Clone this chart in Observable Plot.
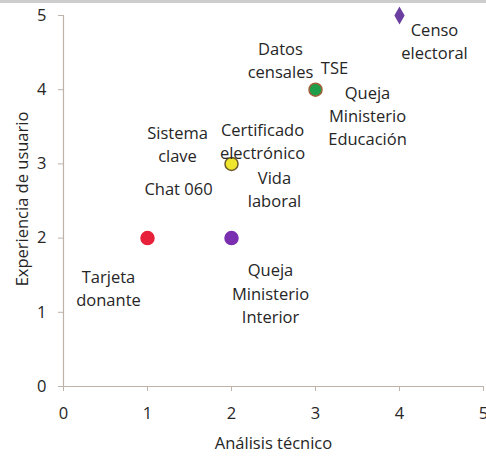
<!DOCTYPE html>
<html><head><meta charset="utf-8">
<script src="https://cdn.jsdelivr.net/npm/d3@7"></script>
<script src="https://cdn.jsdelivr.net/npm/@observablehq/plot@0.6"></script>
<style>
html,body{margin:0;padding:0;background:#fff;}
#chart{position:relative;width:486px;height:469px;overflow:hidden;}
#band{position:absolute;left:0;top:0;width:486px;height:3px;background:#cdcdcd;}
</style></head><body><div id="chart"><div id="band"></div></div>
<script>
// Data
const analisisTecnico = [1, 2, 2, 3, 4];
const experienciaUsuario = [2, 2, 3, 4, 5];
const pointFill = ["#e8213a", "#7a2fb0", "#eee62c", "#1e9e4a", "#6b3fa0"];
const pointStroke = ["#e8213a", "#7a2fb0", "#6b5a2a", "#a0603a", "#6b3fa0"];
const pointSymbol = ["circle", "circle", "circle", "circle", "diamond"];

const labelText = ["Tarjeta\ndonante", "Queja\nMinisterio\nInterior", "Sistema\nclave", "Certificado\nelectrónico", "Chat 060", "Vida\nlaboral", "Datos\ncensales", "TSE", "Queja\nMinisterio\nEducación", "Censo\nelectoral"];
const labelX = [1, 2, 2, 2, 2, 2, 3, 3, 3, 4];
const labelY = [2, 2, 3, 3, 3, 3, 4, 4, 4, 5];

const xTicks = [0, 1, 2, 3, 4, 5];
const yTicks = [0, 1, 2, 3, 4, 5];

// Rendering
const pointRadius = {circle: 6.5, diamond: 4.5};
const points = analisisTecnico.map((x, i) => ({x, y: experienciaUsuario[i], fill: pointFill[i], stroke: pointStroke[i], symbol: pointSymbol[i], r: pointRadius[pointSymbol[i]]}));
const labelOffsets = [[-39, 49], [39, 54], [-54, -21], [31, -24], [-53, 24], [43, 24], [-35, -31], [19, -23], [52, 25], [35, 25]];
const font = "'Open Sans', sans-serif";
const axisColor = "#bfb2a8";
const textColor = "#262626";

const labelMarks = labelText.map((t, i) => Plot.text([{x: labelX[i], y: labelY[i], t}], {
  x: "x", y: "y", text: "t", dx: labelOffsets[i][0], dy: labelOffsets[i][1],
  fontSize: 16.5, lineHeight: 1.4, fill: textColor, textAnchor: "middle", lineAnchor: "middle"
}));

const chart = Plot.plot({
  width: 486,
  height: 469,
  marginLeft: 63,
  marginRight: 3,
  marginTop: 15,
  marginBottom: 83,
  style: {fontFamily: font, background: "transparent", overflow: "visible"},
  x: {domain: [0, 5]},
  y: {domain: [0, 5]},
  r: {type: "identity"},
  color: {type: "identity"},
  symbol: {type: "identity"},
  marks: [
    Plot.ruleX([0], {stroke: axisColor, strokeWidth: 1.2}),
    Plot.ruleY([0], {stroke: axisColor, strokeWidth: 1.2}),
    Plot.axisX(xTicks, {tickSize: 5, tickPadding: 16, stroke: axisColor, fill: textColor, fontSize: 16.5, tickFormat: "d", label: null}),
    Plot.axisY(yTicks, {tickSize: 5, tickPadding: 12, stroke: axisColor, fill: textColor, fontSize: 16.5, tickFormat: "d", label: null}),
    Plot.text(["Análisis técnico"], {frameAnchor: "bottom", dy: 57, fontSize: 16.5, fill: textColor, textAnchor: "middle", lineAnchor: "middle"}),
    Plot.text(["Experiencia de usuario"], {frameAnchor: "left", dx: -41, dy: -2, rotate: -90, fontSize: 16.5, fill: textColor, textAnchor: "middle", lineAnchor: "middle"}),
    Plot.dot(points, {x: "x", y: "y", fill: "fill", stroke: "stroke", symbol: "symbol", r: "r", strokeWidth: 1.5}),
    ...labelMarks
  ]
});
document.getElementById("chart").prepend(chart);
</script>
</body></html>
